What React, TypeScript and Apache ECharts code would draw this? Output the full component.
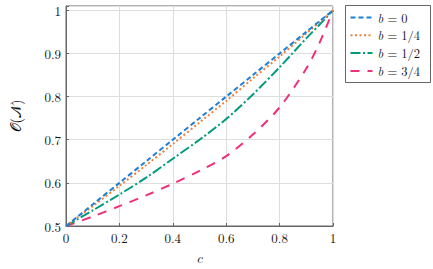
import React, { useEffect, useRef } from "react";
import * as echarts from "echarts";

const cValues = [0, 0.1, 0.2, 0.3, 0.4, 0.5, 0.6, 0.7, 0.8, 0.9, 0.95, 1];
const b0 = [0.5, 0.55, 0.6, 0.65, 0.7, 0.75, 0.8, 0.85, 0.9, 0.95, 0.975, 1];
const b14 = [0.5, 0.546, 0.593, 0.641, 0.69, 0.74, 0.79, 0.842, 0.893, 0.946, 0.973, 1];
const b12 = [0.5, 0.536, 0.573, 0.612, 0.656, 0.7, 0.748, 0.805, 0.868, 0.935, 0.967, 1];
const b34 = [0.5, 0.522, 0.546, 0.571, 0.598, 0.628, 0.662, 0.712, 0.775, 0.865, 0.925, 1];
const seriesNames = ["b = 0", "b = 1/4", "b = 1/2", "b = 3/4"];
const seriesColors = ["#1E7FD8", "#F07F3C", "#009B7D", "#EE2F7A"];
const seriesDashes: number[][] = [[5, 3], [2, 2.5], [10, 2.5, 2, 2.5], [9, 8]];
const xTicks = { min: 0, max: 1, interval: 0.2 };
const yTicks = { min: 0.5, max: 1.01, interval: 0.1 };
const xName = "c";
const yName = "𝒪(𝒩)";

const FONT = "'Latin Modern Roman', 'CMU Serif', 'Liberation Serif', 'DejaVu Serif', serif";

function fmt(v: number): string {
  const r = Math.round(v * 10);
  if (Math.abs(v * 10 - r) > 1e-6) return "";
  return (r / 10).toString();
}

export default function App() {
  const ref = useRef<HTMLDivElement>(null);
  useEffect(() => {
    if (!ref.current) return;
    const chart = echarts.init(ref.current, undefined, { renderer: "svg" });
    const allData = [b0, b14, b12, b34];

    const legendX = 345.5;
    const legendY = 5.5;
    const rowH = 17.8;
    const legendItems: any[] = [
      {
        type: "rect",
        shape: { x: legendX, y: legendY, width: 85, height: 77 },
        style: { fill: "#ffffff", stroke: "#666666", lineWidth: 1 },
        z: 100,
      },
    ];
    seriesNames.forEach((name, i) => {
      const cy = legendY + 12 + i * rowH;
      legendItems.push({
        type: "line",
        shape: { x1: legendX + 5, y1: cy, x2: legendX + 27, y2: cy },
        style: { stroke: seriesColors[i], lineWidth: 2, lineDash: seriesDashes[i] },
        z: 101,
      });
      legendItems.push({
        type: "text",
        x: legendX + 32,
        y: cy,
        style: {
          text: `{i|b}{n|${name.slice(1)}}`,
          verticalAlign: "middle",
          align: "left",
          lineHeight: 13,
          rich: {
            i: { fontFamily: FONT, fontStyle: "italic", fontSize: 12.5, lineHeight: 13, fill: "#111" },
            n: { fontFamily: FONT, fontSize: 12.5, lineHeight: 13, fill: "#111" },
          },
        },
        z: 101,
      });
    });

    chart.setOption({
      animation: false,
      backgroundColor: "#ffffff",
      textStyle: { fontFamily: FONT },
      grid: {
        left: 62,
        top: 6,
        right: 100,
        bottom: 38,
        show: true,
        borderColor: "#666666",
        borderWidth: 1,
        containLabel: false,
      },
      graphic: legendItems,
      xAxis: {
        type: "value",
        min: xTicks.min,
        max: xTicks.max,
        interval: xTicks.interval,
        name: xName,
        nameLocation: "middle",
        nameGap: 24,
        nameTextStyle: { fontFamily: FONT, fontStyle: "italic", fontSize: 14, color: "#111" },
        axisLine: { show: true, lineStyle: { color: "#666666", width: 1 } },
        axisTick: { show: true, inside: true, length: 3, lineStyle: { color: "#666666" } },
        axisLabel: {
          fontFamily: FONT,
          fontSize: 13,
          color: "#111",
          margin: 5,
          formatter: (v: number) => fmt(v),
        },
        splitLine: { show: true, lineStyle: { color: "#dddddd", width: 1 } },
      },
      yAxis: {
        type: "value",
        min: yTicks.min,
        max: yTicks.max,
        interval: yTicks.interval,
        name: yName,
        nameLocation: "middle",
        nameGap: 44,
        nameRotate: 90,
        nameTextStyle: { fontFamily: FONT, fontSize: 14, color: "#111" },
        axisLine: { show: true, lineStyle: { color: "#666666", width: 1 } },
        axisTick: { show: true, inside: true, length: 3, lineStyle: { color: "#666666" } },
        axisLabel: {
          fontFamily: FONT,
          fontSize: 13,
          color: "#111",
          margin: 5,
          formatter: (v: number) => fmt(v),
        },
        splitLine: { show: true, lineStyle: { color: "#dddddd", width: 1 } },
      },
      series: seriesNames.map((name, i) => ({
        name,
        type: "line",
        smooth: 0.3,
        symbol: "none",
        showSymbol: false,
        data: cValues.map((c, j) => [c, allData[i][j]]),
        itemStyle: { color: seriesColors[i] },
        lineStyle: {
          color: seriesColors[i],
          width: 2,
          type: seriesDashes[i],
        },
        z: 10 - i,
      })),
    });
    return () => chart.dispose();
  }, []);
  return (
    <div
      ref={ref}
      style={{ position: "absolute", left: 0, top: 0, width: 433, height: 269 }}
    />
  );
}
